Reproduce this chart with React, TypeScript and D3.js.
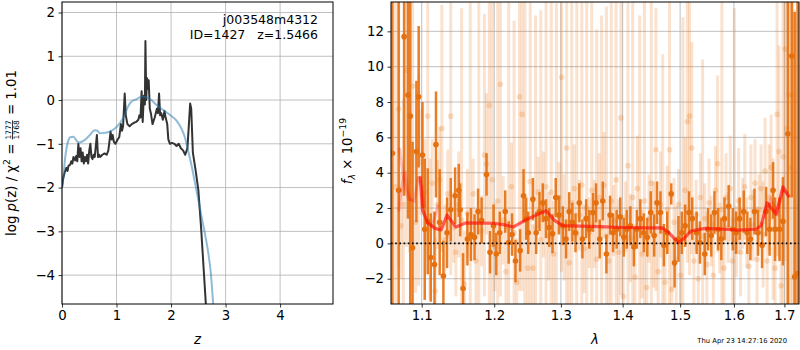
import React, { useEffect, useRef } from 'react';
import * as d3 from 'd3';

// ---- p(z) panel ----
const pzZ = [
  0.0, 0.02, 0.05, 0.08, 0.1, 0.12, 0.15, 0.17, 0.19, 0.21, 0.24, 0.26, 0.28, 0.3, 0.32, 0.34, 0.36, 0.38, 0.4,
  0.42, 0.44, 0.46, 0.48, 0.5, 0.52, 0.54, 0.56, 0.58, 0.6, 0.62, 0.64, 0.66, 0.68, 0.7, 0.74, 0.78, 0.82, 0.85,
  0.87, 0.89, 0.91, 0.93, 0.95, 0.98, 1.02, 1.05, 1.08, 1.1, 1.12, 1.15, 1.17, 1.2, 1.24, 1.28, 1.32, 1.36, 1.4,
  1.42, 1.44, 1.46, 1.48, 1.5, 1.52, 1.53, 1.545, 1.56, 1.575, 1.59, 1.61, 1.63, 1.66, 1.7, 1.74, 1.76, 1.78, 1.8,
  1.82, 1.85, 1.88, 1.9, 1.93, 1.95, 1.98, 2.02, 2.06, 2.1, 2.14, 2.18, 2.22, 2.26, 2.3, 2.33, 2.35, 2.37, 2.4,
  2.45, 2.5, 2.55, 2.6, 2.64,
];
const pzLog = [
  -2.0, -1.8, -1.65, -1.55, -1.62, -1.5, -1.48, -1.4, -1.45, -1.3, -1.38, -1.28, -1.4, -1.0, -1.3, -1.1, -1.4,
  -1.2, -1.45, -1.3, -1.4, -1.25, -1.45, -1.15, -1.0, -1.3, -1.35, -1.25, -1.3, -1.05, -0.8, -1.3, -1.25, -1.3,
  -1.25, -1.22, -1.25, -1.15, -0.95, -0.72, -0.9, -0.8, -0.95, -1.0, -0.9, -0.85, -0.55, -0.7, -0.6, 0.15,
  -0.35, -0.55, -0.6, -0.55, -0.52, -0.5, -0.45, -0.35, -0.4, 0.2, -0.5, 0.1, -0.1, 1.35, 0.0, 0.5, 0.25, 0.45,
  -0.2, -0.3, -0.55, -0.4, -0.2, -0.3, 0.15, -0.35, -0.3, -0.45, -0.25, -0.4, -0.55, -0.9, -1.0, -0.98, -1.0,
  -1.05, -1.0, -1.1, -1.15, -1.25, -1.1, -0.5, -0.08, -0.2, -1.2, -1.6, -2.05, -2.9, -3.9, -4.7,
];
const pzSmoothZ = [
  0.0, 0.02, 0.06, 0.11, 0.15, 0.21, 0.28, 0.32, 0.42, 0.51, 0.6, 0.65, 0.69, 0.78, 0.88, 0.97, 1.06, 1.15, 1.21,
  1.27, 1.37, 1.46, 1.55, 1.64, 1.73, 1.86, 1.98, 2.1, 2.19, 2.25, 2.31, 2.38, 2.44, 2.5, 2.56, 2.62, 2.68, 2.73,
  2.78,
];
const pzSmoothLog = [
  -1.98, -1.83, -1.3, -0.95, -0.85, -0.84, -0.95, -0.97, -0.91, -0.8, -0.69, -0.7, -0.76, -0.75, -0.72, -0.65,
  -0.53, -0.34, -0.15, -0.04, 0.02, 0.08, 0.06, 0.0, -0.11, -0.23, -0.34, -0.47, -0.65, -0.84, -1.14, -1.52, -1.9,
  -2.28, -2.67, -3.05, -3.47, -3.96, -4.8,
];
const zTicks = [0, 1, 2, 3, 4];
const pzTicks = [-4, -3, -2, -1, 0, 1, 2];

// ---- spectrum panel: [lambda, flux, err] ----
const rawSpec: [number, number, number][] = [
  [1.066, 3.2, 12], [1.07, 7.6, 9], [1.073, 1.0, 3], [1.076, 2.2, 6], [1.08, 9.8, 10], [1.084, 3.5, 4],
  [1.088, 8.9, 9], [1.092, 1.2, 4], [1.096, 3.6, 6], [1.1, 4.6, 3], [1.104, 2.9, 3], [1.108, 7.2, 8],
  [1.111, 0.8, 4], [1.114, 3.4, 2.5], [1.118, -2.7, 3], [1.121, 2.2, 2.5], [1.124, 3.6, 3], [1.127, 6.5, 7],
  [1.131, 0.2, 2], [1.135, 2.8, 2.5], [1.139, 7.2, 9], [1.143, 0.9, 2], [1.146, -0.5, 2.5], [1.15, 2.2, 3],
  [1.154, 1.3, 12], [1.158, -2.3, 3], [1.162, 1.7, 2.5], [1.166, 0.3, 14], [1.17, 2.8, 2], [1.174, -1.0, 3],
  [1.178, 1.8, 12], [1.182, 0.7, 2], [1.186, 5.0, 8], [1.189, 4.5, 4], [1.193, 7.8, 12], [1.197, 3.6, 14],
  [1.201, -0.2, 2.5], [1.205, 2.4, 13], [1.209, 9.0, 12], [1.213, 1.3, 2.5], [1.217, -1.6, 3], [1.221, 0.9, 14],
  [1.225, 3.2, 2.5], [1.229, 0.6, 12], [1.233, -2.2, 2.5], [1.237, 8.3, 11], [1.241, 7.3, 10], [1.245, 1.8, 14],
  [1.249, -1.4, 3], [1.253, 3.5, 13], [1.257, -1.4, 2.5], [1.261, 0.9, 12], [1.265, 2.9, 2], [1.269, 0.2, 13],
  [1.273, 2.2, 3], [1.277, 3.2, 12], [1.281, 0.4, 2.5], [1.285, 2.9, 14], [1.289, -0.6, 3], [1.293, 1.6, 12],
  [1.297, 2.6, 2], [1.301, 9.4, 11], [1.305, 0.9, 3], [1.309, 5.4, 10], [1.313, -1.1, 2.5], [1.317, 2.3, 12],
  [1.321, 3.1, 2.5], [1.325, 0.5, 14], [1.329, 1.6, 2], [1.333, 3.3, 12], [1.337, -0.3, 2.5], [1.341, 2.0, 13],
  [1.345, 0.6, 2], [1.349, 3.0, 12], [1.353, 1.1, 2.5], [1.357, -0.9, 13], [1.361, 2.6, 2.5], [1.365, 0.9, 12],
  [1.369, 3.3, 3], [1.373, 0.4, 13], [1.377, -1.0, 2.5], [1.381, 2.4, 12], [1.385, 1.3, 2], [1.389, 3.6, 13],
  [1.393, -0.5, 3], [1.397, 7.1, 10], [1.401, -3.0, 4], [1.405, 1.5, 2], [1.409, 4.4, 12], [1.413, 0.3, 2.5],
  [1.417, 2.6, 12], [1.421, -1.9, 3], [1.425, 3.1, 3], [1.429, 0.9, 12], [1.433, -0.6, 2.5], [1.437, 2.4, 13],
  [1.441, -2.5, 3], [1.445, 1.4, 2.5], [1.449, 3.4, 12], [1.453, 0.5, 3], [1.457, 5.3, 8], [1.461, -1.6, 3],
  [1.465, 2.2, 3], [1.469, 0.7, 10], [1.473, -2.2, 3], [1.477, 1.9, 2.5], [1.481, 5.3, 9], [1.485, -2.6, 3],
  [1.489, 1.2, 2.5], [1.493, -0.9, 3], [1.497, 2.2, 2], [1.501, -1.8, 2.5], [1.505, 0.8, 12], [1.509, 3.0, 3],
  [1.513, 6.9, 8], [1.517, 7.2, 9], [1.521, 5.4, 6], [1.525, -1.0, 2.5], [1.529, 1.6, 2], [1.533, -2.0, 3],
  [1.537, 2.6, 2.5], [1.541, 0.4, 10], [1.545, 1.4, 2], [1.549, -1.2, 3], [1.553, 2.3, 2.5], [1.557, 0.7, 2],
  [1.561, -1.8, 3], [1.565, 3.0, 2.5], [1.569, 4.5, 5], [1.573, 0.3, 2], [1.577, 1.9, 12], [1.581, -1.4, 3],
  [1.585, 2.6, 2.5], [1.589, 0.9, 2], [1.593, 3.1, 3], [1.597, -1.0, 2.5], [1.601, 1.3, 12], [1.605, 0.1, 2],
  [1.609, 2.4, 3], [1.613, -0.5, 2.5], [1.617, 1.7, 2], [1.621, 3.2, 3], [1.625, 0.6, 2], [1.629, -1.3, 2.5],
  [1.633, 2.6, 3], [1.637, 1.0, 2], [1.641, 3.4, 2.5], [1.645, -0.9, 3], [1.649, 1.9, 2], [1.653, 3.1, 2.5],
  [1.657, 0.5, 3], [1.661, 4.1, 3], [1.665, -1.0, 2.5], [1.669, 2.6, 3], [1.673, 4.3, 3], [1.677, 0.8, 4],
  [1.681, -1.4, 3], [1.685, 7.3, 8], [1.689, 5.2, 6], [1.693, -2.4, 4], [1.697, 4.9, 10], [1.701, 11.0, 12],
  [1.705, 6.5, 10], [1.709, 8.4, 12], [1.713, 4.3, 12], [1.717, 8.4, 14], [1.721, -1.8, 15],
];

const binSpec: [number, number, number][] = [
  [1.062, 5.1, 20], [1.07, 3.0, 15], [1.077, 11.7, 9], [1.082, 8.4, 7], [1.085, 7.2, 12], [1.088, -0.25, 6],
  [1.093, 5.2, 4], [1.096, 8.3, 4], [1.101, 5.0, 3], [1.104, 0.8, 4], [1.108, 1.25, 3], [1.112, -0.8, 2.5],
  [1.117, -1.2, 3], [1.119, 5.6, 3], [1.124, 1.2, 3], [1.129, -1.85, 2], [1.134, 0.6, 2], [1.139, 1.9, 1.8],
  [1.145, 2.7, 1.6], [1.15, 3.0, 1.5], [1.152, 1.9, 1.5], [1.156, -2.55, 2], [1.162, 0.25, 1.5], [1.167, 0.5, 1.5],
  [1.172, 0.35, 1.3], [1.177, 1.8, 1.3], [1.182, 1.3, 1.3], [1.189, 3.9, 1.2], [1.194, -0.5, 1.2],
  [1.199, 1.0, 1.2], [1.203, -0.6, 1.2], [1.208, 0.6, 1.2], [1.216, 1.8, 1.2], [1.221, 0.05, 1.2],
  [1.226, 0.5, 1.2], [1.231, -1.0, 1.2], [1.238, -0.4, 1.2], [1.243, 2.7, 1.5], [1.247, 1.4, 1.2],
  [1.25, 0.6, 1.2], [1.257, 2.5, 1.2], [1.262, 0.6, 1.2], [1.267, 1.8, 1.1], [1.272, 2.3, 1.1], [1.277, 1.4, 1.1],
  [1.282, 0.9, 1.1], [1.287, 0.55, 1.1], [1.292, 2.6, 1.1], [1.297, 1.6, 1.1], [1.303, 1.0, 1.1],
  [1.308, 0.25, 1.1], [1.313, 1.8, 1.1], [1.318, 1.2, 1.1], [1.323, 0.6, 1.1], [1.329, 2.3, 1.1],
  [1.334, 0.25, 1.1], [1.34, 1.4, 1.1], [1.345, 0.8, 1.1], [1.351, 1.75, 1.1], [1.356, 2.3, 1.1],
  [1.362, 0.25, 1.1], [1.367, 2.4, 1.1], [1.373, -0.6, 1.1], [1.379, 1.6, 1.1], [1.384, 0.6, 1.1],
  [1.39, 0.8, 1.1], [1.396, 1.5, 1.1], [1.402, 0.35, 1.1], [1.407, 0.8, 1.1], [1.413, 1.0, 1.1],
  [1.419, -0.2, 1.1], [1.424, 0.8, 1.1], [1.43, 1.4, 1.1], [1.436, 0.6, 1.1], [1.442, 0.35, 1.1],
  [1.448, 1.75, 1.2], [1.454, 0.45, 1.2], [1.459, 2.3, 1.2], [1.465, 1.75, 1.2], [1.471, -0.1, 1.2],
  [1.477, 0.6, 1.2], [1.484, 2.8, 0.6], [1.49, -1.1, 1.4], [1.497, 0.25, 1.3], [1.503, 0.6, 1.2],
  [1.509, 1.0, 1.2], [1.516, 1.75, 1.2], [1.522, 1.4, 1.2], [1.53, 0.6, 1.2], [1.536, 0.05, 1.2],
  [1.545, -0.6, 1.2], [1.551, 0.8, 1.2], [1.557, 0.45, 1.2], [1.563, 1.75, 1.2], [1.57, 0.8, 1.2],
  [1.576, 0.25, 1.2], [1.582, 1.4, 1.2], [1.59, 2.1, 1.2], [1.598, 0.8, 1.2], [1.604, 0.6, 1.2],
  [1.611, 1.4, 1.2], [1.619, 1.8, 1.2], [1.626, 0.6, 1.2], [1.632, 0.25, 1.2], [1.64, 1.8, 1.3],
  [1.647, 0.6, 1.3], [1.655, -0.1, 1.3], [1.663, 1.8, 1.4], [1.67, 0.8, 1.5], [1.677, 3.0, 1.6],
  [1.681, 0.8, 1.8], [1.69, 0.8, 1.8], [1.697, 1.25, 2.5], [1.707, 6.2, 12], [1.715, 10.6, 8],
  [1.721, -1.9, 15], [1.727, -1.7, 16],
];

const modelLam = [
  1.098, 1.101, 1.108, 1.118, 1.126, 1.134, 1.146, 1.16, 1.18, 1.2, 1.215, 1.228, 1.246, 1.262, 1.277, 1.29,
  1.303, 1.33, 1.36, 1.4, 1.44, 1.468, 1.48, 1.497, 1.506, 1.52, 1.545, 1.582, 1.608, 1.643, 1.653, 1.665, 1.683,
  1.697, 1.71,
];
const modelFlux = [
  3.8, 1.9, 1.16, 0.85, 0.76, 1.6, 0.93, 1.16, 1.15, 1.14, 1.05, 0.93, 1.32, 1.6, 1.85, 1.3, 1.0, 0.98, 0.95,
  0.9, 0.88, 0.88, 0.6, 0.05, 0.25, 0.7, 0.85, 0.8, 0.75, 0.8, 1.0, 2.3, 1.65, 3.2, 2.6,
];
const pinkLamA = [1.071, 1.075, 1.079, 1.083, 1.09, 1.096, 1.1, 1.104];
const pinkFluxA = [5.4, 4.1, 3.1, 2.5, 2.4, 3.8, 3.2, 2.0];
const pinkLamB = [1.07, 1.074, 1.078, 1.082, 1.086];
const pinkFluxB = [1.8, 3.2, 4.1, 3.0, 2.4];
const pinkLamC = [1.113, 1.118, 1.122];
const pinkFluxC = [0.9, 1.6, 2.2];
const pinkLamD = [1.66, 1.672, 1.686, 1.697, 1.706];
const pinkFluxD = [1.4, 2.5, 1.7, 3.0, 2.8];

const lamTicks = [1.1, 1.2, 1.3, 1.4, 1.5, 1.6, 1.7];
const fluxTicks = [-2, 0, 2, 4, 6, 8, 10, 12];

const FONT = "'DejaVu Sans', sans-serif";
const ORANGE = '#e5700f';
const NB = '\u00a0';

type Part = { t?: string; italic?: boolean; size?: number; shift?: number; frac?: [string, string] };

// builds a rotated mathtext-like label, measuring each piece
function mathLabel(parent: any, cy: number, base: number, parts: Part[]) {
  const g = parent.append('g').style('font-family', FONT);
  let x = 0;
  for (const p of parts) {
    if (p.frac) {
      const n = g.append('text').attr('x', x).attr('y', base - 4.5).style('font-size', '7.5px').text(p.frac[0]);
      const d = g.append('text').attr('x', x).attr('y', base + 3.6).style('font-size', '7.5px').text(p.frac[1]);
      const w = Math.max(n.node().getComputedTextLength(), d.node().getComputedTextLength());
      g.append('line')
        .attr('x1', x)
        .attr('x2', x + w)
        .attr('y1', base - 3)
        .attr('y2', base - 3)
        .attr('stroke', '#000')
        .attr('stroke-width', 0.8);
      x += w + 1;
    } else {
      const t = g
        .append('text')
        .attr('x', x)
        .attr('y', base + (p.shift || 0))
        .style('font-size', `${p.size || 13.3}px`)
        .style('font-style', p.italic ? 'italic' : 'normal')
        .text(p.t);
      x += t.node().getComputedTextLength();
    }
  }
  g.selectAll('text').attr('fill', '#000');
  // local (x,y) -> screen (y, -x)
  g.attr('transform', `translate(0,${cy}) rotate(-90) translate(${-x / 2},0)`);
}

function styleAxis(sel: any) {
  sel.select('.domain').remove();
  sel.selectAll('.tick line').attr('stroke', '#000').attr('stroke-width', 0.8);
  sel.selectAll('.tick text').style('font-family', FONT).style('font-size', '13.3px').attr('fill', '#000');
}

const App: React.FC = () => {
  const svgRef = useRef<SVGSVGElement>(null);

  useEffect(() => {
    if (!svgRef.current) return;
    const svg = d3.select(svgRef.current);
    svg.selectAll('*').remove();

    const L = { x0: 62, x1: 333, y0: 2, y1: 304 };
    const R = { x0: 391, x1: 799, y0: 2, y1: 304 };

    const xz = d3.scaleLinear().domain([0, 4.97]).range([L.x0, L.x1]);
    const yz = d3.scaleLinear().domain([-4.66, 2.24]).range([L.y1, L.y0]);
    const xl = d3.scaleLog().domain([1.0602, 1.73]).range([R.x0, R.x1]);
    const yf = d3.scaleLinear().domain([-3.43, 13.66]).range([R.y1, R.y0]);

    const defs = svg.append('defs');
    defs.append('clipPath').attr('id', 'clipL').append('rect')
      .attr('x', L.x0).attr('y', L.y0).attr('width', L.x1 - L.x0).attr('height', L.y1 - L.y0);
    defs.append('clipPath').attr('id', 'clipR').append('rect')
      .attr('x', R.x0).attr('y', R.y0).attr('width', R.x1 - R.x0).attr('height', R.y1 - R.y0);

    // ---------- left panel ----------
    const gl = svg.append('g');
    const gridL = gl.append('g').attr('stroke', '#b0b0b0').attr('stroke-width', 0.8);
    zTicks.forEach((t) => gridL.append('line').attr('x1', xz(t)).attr('x2', xz(t)).attr('y1', L.y0).attr('y2', L.y1));
    pzTicks.forEach((t) => gridL.append('line').attr('x1', L.x0).attr('x2', L.x1).attr('y1', yz(t)).attr('y2', yz(t)));

    const plotL = gl.append('g').attr('clip-path', 'url(#clipL)');
    const lineZ = d3.line<number>().x((d, i) => xz(pzZ[i])).y((d) => yz(d));
    plotL.append('path').datum(pzLog).attr('d', lineZ).attr('fill', 'none')
      .attr('stroke', '#333').attr('stroke-width', 2).attr('stroke-linejoin', 'round');
    const lineS = d3.line<number>().x((d, i) => xz(pzSmoothZ[i])).y((d) => yz(d)).curve(d3.curveMonotoneX);
    plotL.append('path').datum(pzSmoothLog).attr('d', lineS).attr('fill', 'none')
      .attr('stroke', '#1f77b4').attr('stroke-opacity', 0.5).attr('stroke-width', 2);

    gl.append('g').attr('transform', `translate(0,${L.y1})`)
      .call(d3.axisBottom(xz).tickValues(zTicks).tickFormat(d3.format('d')).tickSize(3.5).tickPadding(3.5))
      .call(styleAxis);
    gl.append('g').attr('transform', `translate(${L.x0},0)`)
      .call(d3.axisLeft(yz).tickValues(pzTicks).tickFormat(d3.format('d')).tickSize(3.5).tickPadding(3.5))
      .call(styleAxis);
    gl.append('rect').attr('x', L.x0).attr('y', L.y0).attr('width', L.x1 - L.x0).attr('height', L.y1 - L.y0)
      .attr('fill', 'none').attr('stroke', '#000').attr('stroke-width', 1);

    const ann = gl.append('g').style('font-family', FONT).style('font-size', '12.5px').attr('text-anchor', 'end');
    ann.append('text').attr('x', 318).attr('y', 24).text('j003548m4312');
    ann.append('text').attr('x', 318).attr('y', 38.5).text(`ID=1427${NB}${NB}${NB}z=1.5466`);

    gl.append('text').attr('x', (L.x0 + L.x1) / 2).attr('y', 344).attr('text-anchor', 'middle')
      .style('font-family', FONT).style('font-size', '13.3px').style('font-style', 'italic').text('z');

    mathLabel(gl, 153, 15.5, [
      { t: `log${NB}` },
      { t: 'p', italic: true },
      { t: `(z)${NB}/${NB}χ` },
      { t: '2', size: 9.3, shift: -5.5 },
      { t: `${NB}=${NB}` },
      { frac: ['1777', '1768'] },
      { t: `${NB}=${NB}1.01` },
    ]);

    // ---------- right panel ----------
    const gr = svg.append('g');
    const gridR = gr.append('g').attr('stroke', '#b0b0b0').attr('stroke-width', 0.8);
    lamTicks.forEach((t) => gridR.append('line').attr('x1', xl(t)).attr('x2', xl(t)).attr('y1', R.y0).attr('y2', R.y1));
    fluxTicks.forEach((t) => gridR.append('line').attr('x1', R.x0).attr('x2', R.x1).attr('y1', yf(t)).attr('y2', yf(t)));

    const plotR = gr.append('g').attr('clip-path', 'url(#clipR)');
    const raw = plotR.append('g');
    raw.selectAll('line').data(rawSpec).enter().append('line')
      .attr('x1', (d) => xl(d[0])).attr('x2', (d) => xl(d[0]))
      .attr('y1', (d) => yf(d[1] - d[2])).attr('y2', (d) => yf(d[1] + d[2]))
      .attr('stroke', ORANGE).attr('stroke-opacity', 0.2).attr('stroke-width', 3);
    raw.selectAll('circle').data(rawSpec).enter().append('circle')
      .attr('cx', (d) => xl(d[0])).attr('cy', (d) => yf(d[1])).attr('r', 2.8)
      .attr('fill', ORANGE).attr('fill-opacity', 0.22);

    const bin = plotR.append('g');
    bin.selectAll('line').data(binSpec).enter().append('line')
      .attr('x1', (d) => xl(d[0])).attr('x2', (d) => xl(d[0]))
      .attr('y1', (d) => yf(d[1] - d[2])).attr('y2', (d) => yf(d[1] + d[2]))
      .attr('stroke', ORANGE).attr('stroke-opacity', 0.9).attr('stroke-width', 2.5);
    bin.selectAll('circle').data(binSpec).enter().append('circle')
      .attr('cx', (d) => xl(d[0])).attr('cy', (d) => yf(d[1])).attr('r', 2.8)
      .attr('fill', ORANGE);

    const pinkLine = (lam: number[], flux: number[]) => {
      const ln = d3.line<number>().x((d, i) => xl(lam[i])).y((d) => yf(d));
      plotR.append('path').datum(flux).attr('d', ln).attr('fill', 'none')
        .attr('stroke', 'red').attr('stroke-opacity', 0.22).attr('stroke-width', 3);
    };
    pinkLine(pinkLamA, pinkFluxA);
    pinkLine(pinkLamB, pinkFluxB);
    pinkLine(pinkLamC, pinkFluxC);
    pinkLine(pinkLamD, pinkFluxD);

    const modelLine = d3.line<number>().x((d, i) => xl(modelLam[i])).y((d) => yf(d));
    plotR.append('path').datum(modelFlux).attr('d', modelLine).attr('fill', 'none')
      .attr('stroke', 'red').attr('stroke-opacity', 0.6).attr('stroke-width', 3.2).attr('stroke-linejoin', 'round');

    plotR.append('line').attr('x1', R.x0).attr('x2', R.x1).attr('y1', yf(0)).attr('y2', yf(0))
      .attr('stroke', '#000').attr('stroke-width', 1.6).attr('stroke-dasharray', '1.6,2.6');

    gr.append('g').attr('transform', `translate(0,${R.y1})`)
      .call(d3.axisBottom(xl).tickValues(lamTicks).tickFormat(d3.format('.1f')).tickSize(3.5).tickPadding(3.5))
      .call(styleAxis);
    gr.append('g').attr('transform', `translate(${R.x0},0)`)
      .call(d3.axisLeft(yf).tickValues(fluxTicks).tickFormat(d3.format('d')).tickSize(3.5).tickPadding(3.5))
      .call(styleAxis);
    gr.append('rect').attr('x', R.x0).attr('y', R.y0).attr('width', R.x1 - R.x0).attr('height', R.y1 - R.y0)
      .attr('fill', 'none').attr('stroke', '#000').attr('stroke-width', 1);

    gr.append('text').attr('x', (R.x0 + R.x1) / 2).attr('y', 344).attr('text-anchor', 'middle')
      .style('font-family', FONT).style('font-size', '13.3px').style('font-style', 'italic').text('λ');

    mathLabel(gr, 151, 351.5, [
      { t: 'f', italic: true },
      { t: 'λ', italic: true, size: 9.3, shift: 3 },
      { t: `${NB}×${NB}10` },
      { t: '\u221219', size: 9.3, shift: -6 },
    ]);

    svg.append('text').attr('x', 787).attr('y', 343).attr('text-anchor', 'end')
      .style('font-family', FONT).style('font-size', '6.8px').text('Thu Apr 23 14:27:16 2020');
  }, []);

  return (
    <svg
      ref={svgRef}
      width={800}
      height={350}
      style={{ position: 'absolute', left: 0, top: 0, background: '#fff' }}
    />
  );
};

export default App;
